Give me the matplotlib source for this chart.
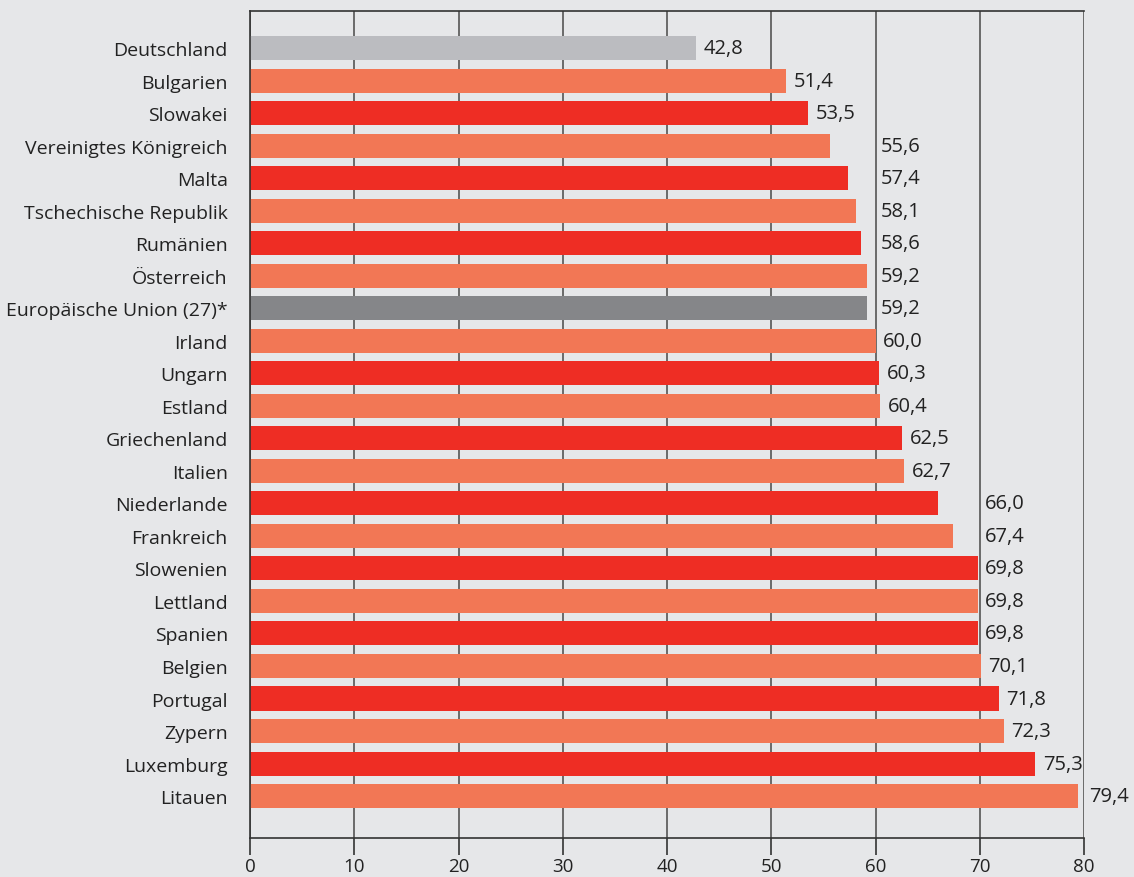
import numpy as np
import matplotlib.pyplot as plt

# Daten
laender = ['Deutschland', 'Bulgarien', 'Slowakei', 'Vereinigtes Königreich', 'Malta',
           'Tschechische Republik', 'Rumänien', 'Österreich', 'Europäische Union (27)*',
           'Irland', 'Ungarn', 'Estland', 'Griechenland', 'Italien', 'Niederlande',
           'Frankreich', 'Slowenien', 'Lettland', 'Spanien', 'Belgien', 'Portugal',
           'Zypern', 'Luxemburg', 'Litauen']
werte = [42.8, 51.4, 53.5, 55.6, 57.4, 58.1, 58.6, 59.2, 59.2, 60.0, 60.3, 60.4,
         62.5, 62.7, 66.0, 67.4, 69.8, 69.8, 69.8, 70.1, 71.8, 72.3, 75.3, 79.4]
x_ticks = [0, 10, 20, 30, 40, 50, 60, 70, 80]

bg = '#E6E7E9'
orange = '#F27755'
rot = '#EE2D24'
farben = []
for i, land in enumerate(laender):
    if land == 'Deutschland':
        farben.append('#BBBCC0')
    elif land.startswith('Europäische'):
        farben.append('#858689')
    elif i % 2 == 1:
        farben.append(orange)
    else:
        farben.append(rot)

plt.rcParams['font.family'] = ['Open Sans', 'DejaVu Sans']

fig = plt.figure(figsize=(11.34, 8.78), dpi=100, facecolor=bg)
ax = fig.add_axes([0.2205, 0.0444, 0.7354, 0.9419], facecolor=bg)

y = np.arange(len(laender))
for xt in x_ticks:
    ax.axvline(xt, color='#555555', linewidth=1.2, zorder=1)
ax.barh(y, werte, height=0.74, color=farben, zorder=2)

# Beschriftungen der Werte, bei Gitterlinie dahinter setzen
for yi, v in zip(y, werte):
    naechste = np.floor(v / 10) * 10 + 10
    if naechste - v < 4.5:
        xl = naechste + 0.5
    else:
        xl = v + 0.75
    ax.text(xl, yi, f'{v:.1f}'.replace('.', ','), va='center', ha='left',
            fontsize=14.5, color='#222222', zorder=3)

ax.set_xlim(0, 80)
ax.set_ylim(len(laender) - 1 + 1.29, -1.14)
ax.set_yticks(y)
ax.set_yticklabels(laender, fontsize=14, color='#222222')
ax.tick_params(axis='y', length=0, pad=16)
ax.set_xticks(x_ticks)
ax.set_xticklabels([str(t) for t in x_ticks], fontsize=13.5, color='#222222')
ax.tick_params(axis='x', length=12, width=1.2, color='#333333', pad=2, direction='out')

for s in ['top', 'bottom', 'left']:
    ax.spines[s].set_color('#333333')
    ax.spines[s].set_linewidth(1.2)
ax.spines['right'].set_visible(False)

fig.savefig('out.png', dpi=100, facecolor=bg)
